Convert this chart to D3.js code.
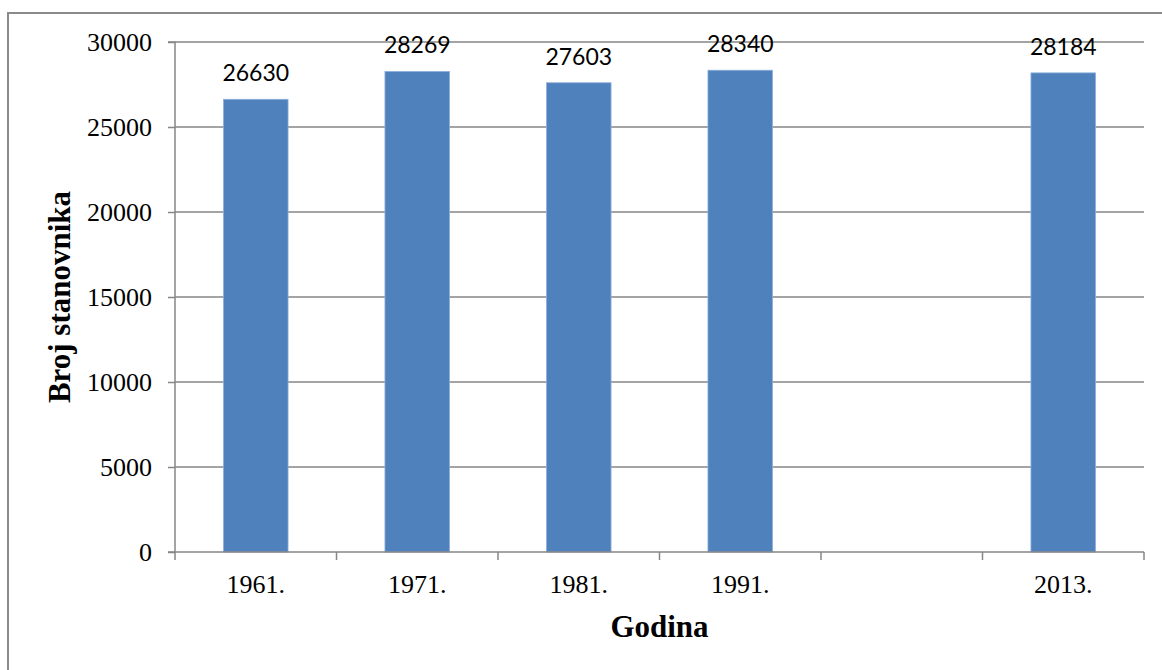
<!DOCTYPE html>
<html>
<head>
<meta charset="utf-8">
<script src="https://cdn.jsdelivr.net/npm/d3@7"></script>
<style>
  body { margin: 0; background: #fff; }
  svg { display: block; }
</style>
</head>
<body>
<div id="chart"></div>
<script>
// chart data
const years = ["1961.", "1971.", "1981.", "1991.", "", "2013."];
const population = [26630, 28269, 27603, 28340, null, 28184];
const yTicks = [0, 5000, 10000, 15000, 20000, 25000, 30000];

const width = 1162, height = 670;
const margin = {top: 42, right: 18, bottom: 118, left: 175};
const plotW = width - margin.left - margin.right;
const plotH = height - margin.top - margin.bottom;

const svg = d3.select("#chart").append("svg")
    .attr("width", width)
    .attr("height", height);

// outer frame
svg.append("rect")
    .attr("x", 8).attr("y", 13)
    .attr("width", width + 10).attr("height", height + 10)
    .attr("fill", "none")
    .attr("stroke", "#8a8a8a")
    .attr("stroke-width", 2);

const g = svg.append("g")
    .attr("transform", `translate(${margin.left},${margin.top})`);

const x = d3.scaleBand()
    .domain(d3.range(years.length))
    .range([0, plotW])
    .paddingInner(0.6)
    .paddingOuter(0.3);

const y = d3.scaleLinear()
    .domain([0, 30000])
    .range([plotH, 0]);

// gridlines
g.append("g")
    .selectAll("line")
    .data(yTicks.filter(d => d > 0))
    .enter()
    .append("line")
    .attr("x1", 0).attr("x2", plotW)
    .attr("y1", d => y(d)).attr("y2", d => y(d))
    .attr("stroke", "#868686")
    .attr("stroke-width", 1.3);

// bars
const barData = population.map((v, i) => ({i: i, v: v})).filter(d => d.v !== null);

g.selectAll("rect.bar").data(barData)
    .enter()
    .append("rect")
    .attr("class", "bar")
    .attr("x", d => x(d.i))
    .attr("width", x.bandwidth())
    .attr("y", d => y(d.v))
    .attr("height", d => plotH - y(d.v))
    .attr("fill", "#4f81bd")
    .attr("stroke", "#8eb0dc")
    .attr("stroke-width", 0.8);

// value labels
g.selectAll("text.val").data(barData)
    .enter()
    .append("text")
    .attr("class", "val")
    .attr("x", d => x(d.i) + x.bandwidth() / 2)
    .attr("y", d => y(d.v) - 18)
    .attr("text-anchor", "middle")
    .attr("font-family", "Lato, 'Liberation Sans', sans-serif")
    .attr("font-size", 23)
    .attr("fill", "#000")
    .text(d => d.v);

// y axis
const yAxis = d3.axisLeft(y)
    .tickValues(yTicks)
    .tickSize(7)
    .tickPadding(16)
    .tickFormat(d3.format("d"));

const ya = g.append("g").attr("class", "y-axis").call(yAxis);
ya.select(".domain").attr("stroke", "#868686").attr("stroke-width", 1.5)
    .attr("d", `M-7,${plotH}H0V0H-7`);
ya.selectAll(".tick line").attr("stroke", "#868686").attr("stroke-width", 1.5);
ya.selectAll(".tick text")
    .attr("font-family", "'Liberation Serif', 'Times New Roman', serif")
    .attr("font-size", 26)
    .attr("fill", "#000");

// x axis: ticks at category boundaries
const step = x.step();
const xa = g.append("g")
    .attr("transform", `translate(0,${plotH})`);
xa.append("line")
    .attr("x1", 0).attr("x2", plotW)
    .attr("stroke", "#868686").attr("stroke-width", 1.5);
xa.selectAll("line.tick")
    .data(d3.range(years.length + 1))
    .enter()
    .append("line")
    .attr("class", "tick")
    .attr("x1", d => d * step).attr("x2", d => d * step)
    .attr("y1", 0).attr("y2", 8)
    .attr("stroke", "#868686").attr("stroke-width", 1.5);
xa.selectAll("text")
    .data(years)
    .enter()
    .append("text")
    .attr("x", (d, i) => x(i) + x.bandwidth() / 2)
    .attr("y", 41)
    .attr("text-anchor", "middle")
    .attr("font-family", "'Liberation Serif', 'Times New Roman', serif")
    .attr("font-size", 26)
    .attr("fill", "#000")
    .text(d => d);

// axis titles
svg.append("text")
    .attr("x", margin.left + plotW / 2)
    .attr("y", 637)
    .attr("text-anchor", "middle")
    .attr("font-family", "'Liberation Serif', 'Times New Roman', serif")
    .attr("font-weight", "bold")
    .attr("font-size", 31)
    .text("Godina");

svg.append("text")
    .attr("transform", `translate(70,${margin.top + plotH / 2}) rotate(-90)`)
    .attr("text-anchor", "middle")
    .attr("font-family", "'Liberation Serif', 'Times New Roman', serif")
    .attr("font-weight", "bold")
    .attr("font-size", 31)
    .text("Broj stanovnika");
</script>
</body>
</html>
